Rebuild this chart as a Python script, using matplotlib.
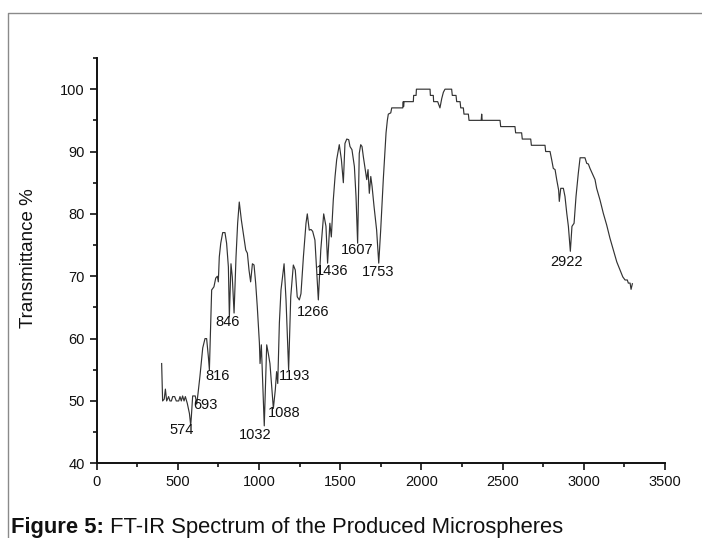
import matplotlib
matplotlib.use("Agg")
import matplotlib.pyplot as plt
from matplotlib.lines import Line2D
from matplotlib.ticker import MultipleLocator

plt.rcParams['font.family'] = ['Liberation Sans', 'DejaVu Sans']

wavenumber = [
    400, 406, 416, 423, 431, 443, 451, 460, 468, 480, 490, 505, 513, 521, 529, 538, 546,
    558, 571, 579, 583, 591, 607, 616, 624, 636, 653, 667, 677, 688, 694, 708, 722, 733,
    743, 749, 755, 764, 776, 790, 800, 811, 817, 827, 835, 846, 858, 868, 878, 891, 903,
    918, 928, 938, 948, 959, 969, 979, 989, 1002, 1006, 1014, 1032, 1047, 1057, 1067,
    1088, 1100, 1108, 1115, 1125, 1135, 1154, 1166, 1182, 1195, 1211, 1223, 1235, 1248,
    1258, 1273, 1289, 1297, 1309, 1320, 1330, 1344, 1365, 1380, 1398, 1412, 1422, 1436,
    1445, 1457, 1468, 1478, 1494, 1507, 1519, 1529, 1540, 1552, 1560, 1572, 1587, 1597,
    1607, 1617, 1626, 1634, 1642, 1654, 1663, 1671, 1679, 1688, 1696, 1708, 1724, 1737,
    1749, 1765, 1782, 1790, 1796, 1811, 1817, 1885, 1888, 1890, 1893, 1950, 1952, 1967,
    1969, 2053, 2055, 2073, 2075, 2100, 2114, 2125, 2135, 2145, 2186, 2190, 2213, 2217,
    2238, 2242, 2258, 2262, 2289, 2293, 2368, 2371, 2374, 2484, 2488, 2576, 2580, 2617,
    2621, 2673, 2677, 2761, 2765, 2792, 2802, 2812, 2823, 2833, 2845, 2849, 2858, 2874,
    2884, 2895, 2905, 2917, 2927, 2940, 2952, 2966, 2977, 3007, 3018, 3028, 3038, 3055,
    3069, 3079, 3100, 3120, 3141, 3161, 3182, 3203, 3223, 3240, 3254, 3268, 3274, 3285,
    3291, 3299,
]
transmittance = [
    56.0, 50.0, 50.3, 51.9, 50.0, 50.7, 50.0, 50.0, 50.7, 50.7, 50.0, 50.0, 50.7, 50.0, 50.8, 50.0, 50.7,
    49.6, 48.0, 46.1, 47.5, 50.8, 50.8, 49.5, 51.2, 54.0, 58.5, 60.0, 60.0, 57.0, 55.0, 67.8, 68.3, 69.7,
    70.0, 69.1, 73.1, 75.3, 77.0, 77.0, 75.3, 71.5, 63.5, 72.0, 69.9, 64.1, 73.1, 78.5, 81.9, 79.0, 76.9,
    74.2, 73.7, 71.0, 69.1, 72.0, 71.8, 68.9, 65.1, 59.3, 56.0, 59.0, 46.0, 59.0, 57.6, 56.0,
    48.8, 51.8, 54.7, 52.8, 62.5, 67.8, 72.0, 66.2, 55.0, 66.7, 71.8, 71.0, 66.7, 66.2,
    67.2, 73.1, 78.5, 80.0, 77.4, 77.5, 77.2, 75.8, 66.2, 74.2, 80.0, 78.0, 72.1, 78.5,
    76.3, 82.2, 86.0, 88.7, 91.1, 88.7, 85.0, 91.3, 92.0, 91.9, 90.8, 90.3, 87.6, 82.8,
    75.3, 89.7, 91.1, 90.8, 89.2, 87.1, 85.5, 87.1, 83.3, 86.0, 84.4, 81.2, 77.4, 72.1,
    77.4, 85.5, 93.0, 95.0, 96.0, 96.2, 97.0, 97.0, 98.0, 97.2, 98.0, 98.0, 99.0, 99.0,
    100.0, 100.0, 99.0, 99.0, 98.0, 98.0, 97.0, 98.5, 99.5, 100.0, 100.0, 99.0, 99.0, 98.0,
    98.0, 97.0, 97.0, 96.0, 96.0, 95.0, 95.0, 96.0, 95.0, 95.0, 94.0, 94.0, 93.0, 93.0,
    92.0, 92.0, 91.0, 91.0, 90.0, 90.0, 88.7, 87.3, 87.1, 85.5, 83.8, 82.0, 84.1, 84.1,
    82.8, 80.1, 78.0, 74.0, 78.0, 78.5, 82.8, 86.5, 89.0, 89.0, 88.1, 88.0, 87.3, 86.3,
    85.5, 84.1, 82.2, 80.1, 78.2, 76.1, 74.2, 72.3, 71.0, 69.9, 69.4, 69.4, 68.9, 68.9,
    67.9, 68.8,
]

peak_labels = ["574", "693", "816", "846", "1032", "1088", "1193", "1266",
               "1436", "1607", "1753", "2922"]
label_x = [523, 667, 743, 807, 979, 1155, 1221, 1330, 1451, 1605, 1731, 2895]
label_y = [45.3, 49.4, 54.0, 62.6, 44.5, 48.0, 54.0, 64.2, 70.9, 74.2, 70.7, 72.3]

x_ticks = [0, 500, 1000, 1500, 2000, 2500, 3000, 3500]
y_ticks = [40, 50, 60, 70, 80, 90, 100]

W, H = 702, 538
fig = plt.figure(figsize=(W / 100, H / 100), dpi=100)
ax = fig.add_axes([96.7 / W, 1 - 463.3 / H, (665 - 96.7) / W, (463.3 - 58) / H])

ax.plot(wavenumber, transmittance, color='#333333', lw=0.85)

for s, xv, yv in zip(peak_labels, label_x, label_y):
    ax.text(xv, yv, s, ha='center', va='center', fontsize=10.5, color='#111111')

ax.set_xlim(0, 3500)
ax.set_ylim(40, 105)
ax.set_xticks(x_ticks)
ax.set_yticks(y_ticks)
ax.xaxis.set_minor_locator(MultipleLocator(250))
ax.yaxis.set_minor_locator(MultipleLocator(5))
for side in ['top', 'right']:
    ax.spines[side].set_visible(False)
for side in ['left', 'bottom']:
    ax.spines[side].set_linewidth(1.4)
    ax.spines[side].set_color('#111111')
ax.tick_params(which='major', direction='out', length=5, width=1.2, labelsize=10.5,
               pad=3.5, colors='#111111')
ax.tick_params(which='minor', direction='out', length=3, width=1.2, colors='#111111')

fig.text(29 / W, 1 - 258 / H, "Transmittance %", rotation=90, ha='center', va='center',
         fontsize=13.5, color='#111111')

# figure frame
fig.add_artist(Line2D([8 / W, 8 / W, 1], [0, 1 - 13 / H, 1 - 13 / H],
                      transform=fig.transFigure, color='#8a8a8a', lw=1.0))

t1 = fig.text(11 / W, 1 - 532.5 / H, "Figure 5:", fontsize=15.8, fontweight='bold',
              ha='left', va='baseline', color='#111111')
ax.annotate(" FT-IR Spectrum of the Produced Microspheres", xy=(1, 0), xycoords=t1,
            ha='left', va='bottom', fontsize=15.8, color='#111111', annotation_clip=False)

fig.savefig("out.png", dpi=100)
